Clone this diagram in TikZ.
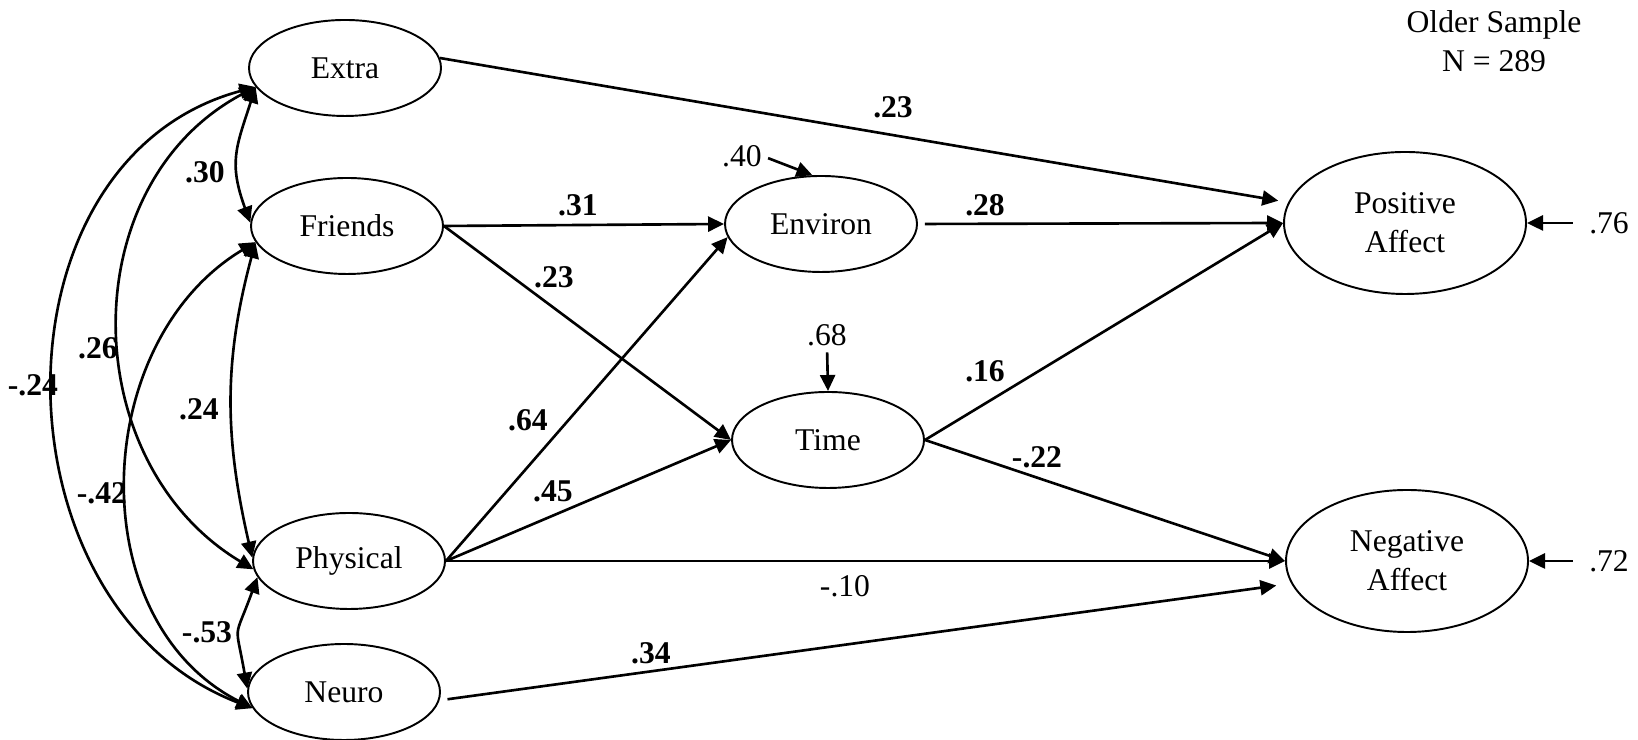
\documentclass[tikz,border=0pt]{standalone}
\usepackage{fontspec}
\setmainfont{Liberation Serif}
\usetikzlibrary{positioning,arrows.meta,shapes.geometric}

\begin{document}
\begin{tikzpicture}[font=\small,
  latent/.style={draw, ellipse, line width=0.55pt, minimum width=1.92cm, minimum height=0.96cm, inner sep=0pt, align=center},
  outcome/.style={latent, minimum width=2.42cm, minimum height=1.42cm},
  effect/.style={-{Triangle[length=0.16cm,width=0.15cm]}, line width=0.75pt},
  cov/.style={{Triangle[length=0.16cm,width=0.15cm]}-{Triangle[length=0.16cm,width=0.15cm]}, line width=0.75pt},
  coef/.style={font=\small\bfseries, inner sep=0pt},
  resid/.style={inner sep=0pt}]
  \useasboundingbox (0,0) rectangle (16.38,7.40);

  % Predictors
  \node[latent] (extra) at (3.45,6.72) {Extra};
  \node[latent] (friends) at (3.47,5.14) {Friends};
  \node[latent] (physical) at (3.49,1.79) {Physical};
  \node[latent] (neuro) at (3.44,0.48) {Neuro};

  % Mediators
  \node[latent] (environ) at (8.21,5.16) {Environ};
  \node[latent] (time) at (8.28,3.00) {Time};

  % Outcomes
  \node[outcome] (posaff) at (14.05,5.17) {Positive\\Affect};
  \node[outcome] (negaff) at (14.07,1.79) {Negative\\Affect};

  \node[align=center] (sample) at (14.94,6.99) {Older Sample\\N = 289};

  % Residuals
  \node[resid] (r40) at (7.42,5.84) {.40};
  \node[resid] (r68) at (8.27,4.05) {.68};
  \node[resid] (r76) at (16.09,5.17) {.76};
  \node[resid] (r72) at (16.09,1.79) {.72};
  \draw[effect, shorten <=0.06cm] (r40.east) -- (environ.100);
  \draw[effect, shorten <=0.06cm] (r68.south) -- (time.north);
  \draw[effect, shorten <=0.16cm] (r76.west) -- (posaff.east);
  \draw[effect, shorten <=0.16cm] (r72.west) -- (negaff.east);

  % Correlations among predictors
  \draw[cov] (friends.178) to[out=110,in=252,looseness=1.2] (extra.192);
  \draw[cov] (extra.192) to[out=208,in=149,looseness=1.1] (physical.185);
  \draw[cov] (extra.192) to[out=195,in=159,looseness=1.155] (neuro.190);
  \draw[cov] (friends.190) to[out=255,in=103] (physical.178);
  \draw[cov] (friends.190) to[out=211,in=153,looseness=1.06] (neuro.190);
  \draw[cov] (physical.190) to[out=250,in=100,looseness=1.6] (neuro.178);
  \node[coef] (wExFr) at (2.05,5.68) {.30};
  \node[coef] (wExPh) at (0.98,3.92) {.26};
  \node[coef] (wExNe) at (0.33,3.55) {-.24};
  \node[coef] (wFrPh) at (1.99,3.31) {.24};
  \node[coef] (wFrNe) at (1.02,2.47) {-.42};
  \node[coef] (wPhNe) at (2.07,1.08) {-.53};

  % Paths
  \draw[effect, shorten >=0.1cm] (extra.6) -- (posaff.170);
  \draw[effect] (friends.east) -- (environ.west);
  \draw[effect] (friends.east) -- (time.west);
  \draw[effect] (physical.east) -- (environ.188);
  \draw[effect] (physical.east) -- (time.west);
  \draw[effect] (physical.east) -- (negaff.west);
  \draw[effect, shorten <=0.07cm] (environ.east) -- (posaff.west);
  \draw[effect] (time.east) -- (posaff.west);
  \draw[effect] (time.east) -- (negaff.west);
  \draw[effect, shorten <=0.08cm, shorten >=0.15cm] (neuro.-5) -- (negaff.191);

  \node[coef] (wExPos) at (8.93,6.33) {.23};
  \node[coef] (wFrEn) at (5.78,5.35) {.31};
  \node[coef] (wEnPos) at (9.85,5.35) {.28};
  \node[coef] (wFrTi) at (5.54,4.63) {.23};
  \node[coef] (wPhEn) at (5.28,3.20) {.64};
  \node[coef] (wPhTi) at (5.53,2.49) {.45};
  \node[coef] (wTiPos) at (9.85,3.69) {.16};
  \node[coef] (wTiNeg) at (10.37,2.83) {-.22};
  \node[resid] (wPhNeg) at (8.45,1.54) {-.10};
  \node[coef] (wNeNeg) at (6.51,0.87) {.34};
\end{tikzpicture}
\end{document}
